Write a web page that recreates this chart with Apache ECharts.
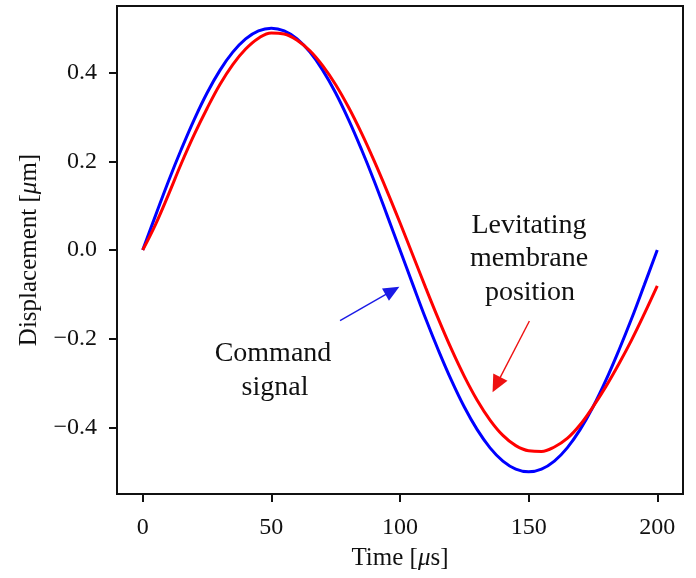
<!DOCTYPE html>
<html>
<head>
<meta charset="utf-8">
<script src="https://cdn.jsdelivr.net/npm/echarts@6/dist/echarts.min.js"></script>
<style>html,body{margin:0;padding:0;background:#fff}#c{width:696px;height:578px}</style>
</head>
<body>
<div id="c"></div>
<script>
// Time axis samples [μs]
var times = [0,5,10,15,20,25,30,35,40,45,50,55,60,65,70,75,80,85,90,95,100,
             105,110,115,120,125,130,135,140,145,150,155,160,165,170,175,180,185,190,195,200];
// Command signal [μm]
var command = [0,0.078,0.155,0.227,0.294,0.354,0.405,0.446,0.476,0.494,0.500,
               0.494,0.476,0.446,0.405,0.354,0.294,0.227,0.155,0.078,0,
               -0.078,-0.155,-0.227,-0.294,-0.354,-0.405,-0.446,-0.476,-0.494,-0.500,
               -0.494,-0.476,-0.446,-0.405,-0.354,-0.294,-0.227,-0.155,-0.078,0];
// Levitating membrane position [μm]
var membrane = [0,0.058,0.125,0.195,0.260,0.319,0.373,0.418,0.453,0.4775,0.4894,
                0.487,0.473,0.449,0.415,0.3726,0.3217,0.2639,0.2002,0.1323,0.0614,
                -0.0118,-0.0853,-0.1565,-0.2236,-0.2848,-0.3386,-0.3833,-0.4179,-0.4410,-0.4525,
                -0.4540,-0.4440,-0.4248,-0.3940,-0.3535,-0.3080,-0.2575,-0.2030,-0.1435,-0.081];
var xTicks = [0,50,100,150,200];
var yTicks = [-0.4,-0.2,0,0.2,0.4];

function pairs(xs, ys){ return xs.map(function(x,i){ return [x, ys[i]]; }); }

var FONT = 'Liberation Serif';
var chart = echarts.init(document.getElementById('c'), null, {renderer:'canvas'});
var annoStyle = {fontFamily: FONT, fontSize: 28, fill: '#111', textAlign: 'center', textVerticalAlign: 'middle'};

chart.setOption({
  animation: false,
  backgroundColor: '#fff',
  grid: {left: 117, right: 13, top: 6, bottom: 84, show: true, borderColor: '#111', borderWidth: 2, backgroundColor: 'transparent'},
  xAxis: {
    type: 'value', min: -10, max: 210,
    name: 'Time [{i|μ}s]', nameLocation: 'middle', nameGap: 52,
    nameTextStyle: {fontFamily: FONT, fontSize: 25, color: '#111',
      rich: {i: {fontFamily: FONT, fontSize: 25, fontStyle: 'italic', color: '#111'}}},
    axisLine: {show: true, onZero: false, lineStyle: {color: '#111', width: 2}},
    axisTick: {show: true, length: 8, inside: false, customValues: xTicks, lineStyle: {color: '#111', width: 2}},
    axisLabel: {customValues: xTicks, margin: 22, fontFamily: FONT, fontSize: 24, color: '#111'},
    splitLine: {show: false}
  },
  yAxis: {
    type: 'value', min: -0.55, max: 0.55,
    name: 'Displacement [{i|μ}m]', nameLocation: 'middle', nameGap: 75,
    nameTextStyle: {fontFamily: FONT, fontSize: 25, color: '#111',
      rich: {i: {fontFamily: FONT, fontSize: 25, fontStyle: 'italic', color: '#111'}}},
    axisLine: {show: true, onZero: false, lineStyle: {color: '#111', width: 2}},
    axisTick: {show: true, length: 8, inside: false, customValues: yTicks, lineStyle: {color: '#111', width: 2}},
    axisLabel: {customValues: yTicks, margin: 20, fontFamily: FONT, fontSize: 24, color: '#111',
      formatter: function(v){ var s = Math.abs(v).toFixed(1); return v < -1e-9 ? '\u2212' + s : s; }},
    splitLine: {show: false}
  },
  series: [
    {
      name: 'Command signal', type: 'line', data: pairs(times, command),
      showSymbol: false, symbol: 'none', smooth: 0.4,
      lineStyle: {color: '#0000ff', width: 3}, z: 3,
      markLine: {
        silent: true, animation: false, label: {show: false},
        symbol: ['none', 'triangle'], symbolSize: [14, 16],
        lineStyle: {color: '#1a1ae6', width: 1.4, type: 'solid'},
        itemStyle: {color: '#0000ff'},
        emphasis: {disabled: true},
        data: [[{coord: [76.7, -0.159]}, {coord: [97.06, -0.0917]}]]
      }
    },
    {
      name: 'Levitating membrane position', type: 'line', data: pairs(times, membrane),
      showSymbol: false, symbol: 'none', smooth: 0.4,
      lineStyle: {color: '#ff0000', width: 3}, z: 4,
      markLine: {
        silent: true, animation: false, label: {show: false},
        symbol: ['none', 'triangle'], symbolSize: [16, 17],
        lineStyle: {color: '#ee1111', width: 1.4, type: 'solid'},
        itemStyle: {color: '#ff0000'},
        emphasis: {disabled: true},
        data: [[{coord: [150.3, -0.160]}, {coord: [137.5, -0.3036]}]]
      }
    }
  ],
  graphic: [
    {type:'text', x: 273, y: 354, silent: true, style: Object.assign({text: 'Command'}, annoStyle)},
    {type:'text', x: 275, y: 388, silent: true, style: Object.assign({text: 'signal'}, annoStyle)},
    {type:'text', x: 529, y: 226, silent: true, style: Object.assign({text: 'Levitating'}, annoStyle)},
    {type:'text', x: 529, y: 259, silent: true, style: Object.assign({text: 'membrane'}, annoStyle)},
    {type:'text', x: 530, y: 293, silent: true, style: Object.assign({text: 'position'}, annoStyle)}
  ]
});
</script>
</body>
</html>
